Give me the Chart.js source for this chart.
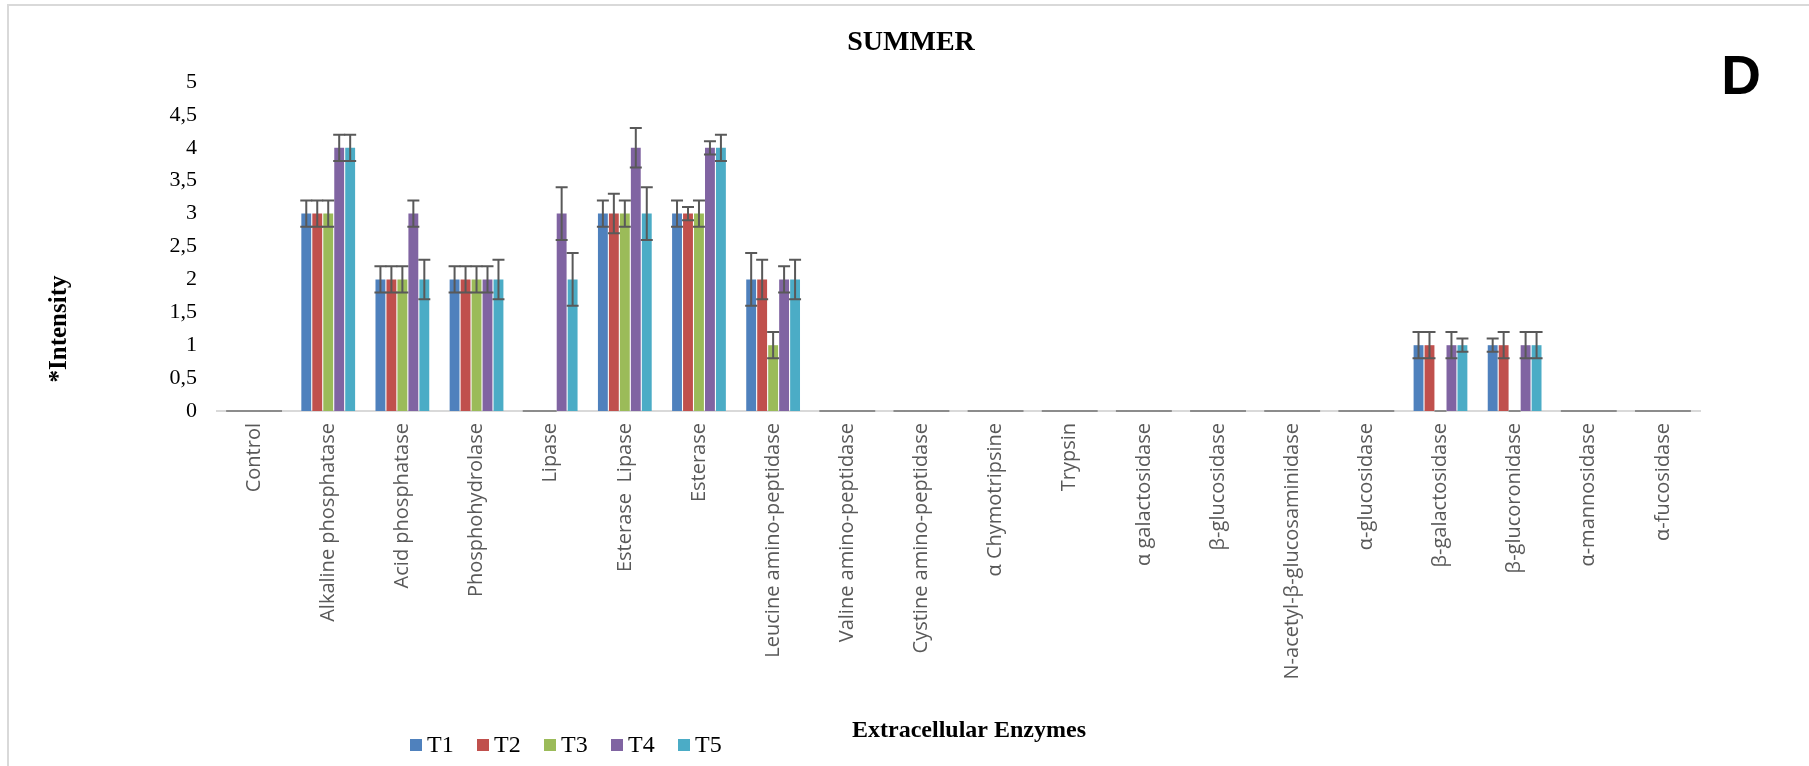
<!DOCTYPE html>
<html>
<head>
<meta charset="utf-8">
<script src="https://cdn.jsdelivr.net/npm/chart.js@4.4.0/dist/chart.umd.min.js"></script>
<style>
  html, body { margin: 0; padding: 0; background: #fff; }
  #wrap { width: 1809px; height: 766px; }
</style>
</head>
<body>
<div id="wrap"><canvas id="chartSummer" width="1809" height="766"></canvas></div>
<script>
// enzymes on the x axis
const enzymes = [
  'Control', 'Alkaline phosphatase', 'Acid phosphatase', 'Phosphohydrolase',
  'Lipase', 'Esterase  Lipase', 'Esterase', 'Leucine amino-peptidase',
  'Valine amino-peptidase', 'Cystine amino-peptidase', 'α Chymotripsine', 'Trypsin',
  'α galactosidase', 'β-glucosidase', 'N-acetyl-β-glucosaminidase', 'α-glucosidase',
  'β-galactosidase', 'β-glucoronidase', 'α-mannosidase', 'α-fucosidase'
];

// intensity per treatment
const t1 = [0, 3, 2, 2, 0, 3, 3, 2, 0, 0, 0, 0, 0, 0, 0, 0, 1, 1, 0, 0];
const t2 = [0, 3, 2, 2, 0, 3, 3, 2, 0, 0, 0, 0, 0, 0, 0, 0, 1, 1, 0, 0];
const t3 = [0, 3, 2, 2, 0, 3, 3, 1, 0, 0, 0, 0, 0, 0, 0, 0, 0, 0, 0, 0];
const t4 = [0, 4, 3, 2, 3, 4, 4, 2, 0, 0, 0, 0, 0, 0, 0, 0, 1, 1, 0, 0];
const t5 = [0, 4, 2, 2, 2, 3, 4, 2, 0, 0, 0, 0, 0, 0, 0, 0, 1, 1, 0, 0];

// error bars (+/-)
const e1 = [0, 0.2, 0.2, 0.2, 0, 0.2, 0.2, 0.4, 0, 0, 0, 0, 0, 0, 0, 0, 0.2, 0.1, 0, 0];
const e2 = [0, 0.2, 0.2, 0.2, 0, 0.3, 0.1, 0.3, 0, 0, 0, 0, 0, 0, 0, 0, 0.2, 0.2, 0, 0];
const e3 = [0, 0.2, 0.2, 0.2, 0, 0.2, 0.2, 0.2, 0, 0, 0, 0, 0, 0, 0, 0, 0, 0, 0, 0];
const e4 = [0, 0.2, 0.2, 0.2, 0.4, 0.3, 0.1, 0.2, 0, 0, 0, 0, 0, 0, 0, 0, 0.2, 0.2, 0, 0];
const e5 = [0, 0.2, 0.3, 0.3, 0.4, 0.4, 0.2, 0.3, 0, 0, 0, 0, 0, 0, 0, 0, 0.1, 0.2, 0, 0];

const seriesNames = ['T1', 'T2', 'T3', 'T4', 'T5'];
const yTicks = [0, 0.5, 1, 1.5, 2, 2.5, 3, 3.5, 4, 4.5, 5];

const colors = ['#4f81bd', '#c0504d', '#9bbb59', '#8064a2', '#4bacc6'];
const values = [t1, t2, t3, t4, t5];
const errors = [e1, e2, e3, e4, e5];

// frame, error bars, titles, legend, panel letter
const extrasPlugin = {
  id: 'extras',
  beforeDraw(chart) {
    const ctx = chart.ctx;
    ctx.save();
    ctx.fillStyle = '#fff';
    ctx.fillRect(0, 0, chart.width, chart.height);
    ctx.strokeStyle = '#d9d9d9';
    ctx.lineWidth = 2;
    ctx.beginPath();
    ctx.moveTo(8, chart.height);
    ctx.lineTo(8, 5);
    ctx.lineTo(chart.width, 5);
    ctx.stroke();
    ctx.restore();
  },
  afterDatasetsDraw(chart) {
    const ctx = chart.ctx;
    const y = chart.scales.y;
    ctx.save();
    ctx.lineWidth = 2;
    chart.data.datasets.forEach((ds, i) => {
      const meta = chart.getDatasetMeta(i);
      meta.data.forEach((bar, j) => {
        const v = ds.data[j];
        const e = errors[i][j];
        const top = y.getPixelForValue(v + e);
        const bot = y.getPixelForValue(Math.max(0, v - e));
        const half = 6;
        ctx.strokeStyle = (v === 0 && e === 0) ? '#8c8c8c' : '#595959';
        ctx.beginPath();
        ctx.moveTo(bar.x, top);
        ctx.lineTo(bar.x, bot);
        ctx.moveTo(bar.x - half, top);
        ctx.lineTo(bar.x + half, top);
        ctx.moveTo(bar.x - half, bot);
        ctx.lineTo(bar.x + half, bot);
        ctx.stroke();
      });
    });
    ctx.restore();
  },
  afterDraw(chart) {
    const ctx = chart.ctx;
    ctx.save();
    ctx.fillStyle = '#000';
    ctx.textBaseline = 'middle';
    ctx.textAlign = 'center';

    // chart title
    ctx.font = 'bold 28px "Liberation Serif"';
    ctx.fillText('SUMMER', 911, 43);

    // y axis title
    ctx.font = 'bold 25px "Liberation Serif"';
    ctx.translate(60, 329);
    ctx.rotate(-Math.PI / 2);
    ctx.fillText('*Intensity', 0, 0);
    ctx.setTransform(1, 0, 0, 1, 0, 0);

    // x axis title
    ctx.font = 'bold 24px "Liberation Serif"';
    ctx.fillText('Extracellular Enzymes', 969, 731);

    // panel letter
    ctx.font = 'bold 55px "Liberation Sans"';
    ctx.fillText('D', 1741, 79);

    // legend
    ctx.font = '24px "Liberation Serif"';
    ctx.textAlign = 'left';
    let lx = 410;
    chart.data.datasets.forEach((ds) => {
      ctx.fillStyle = ds.backgroundColor;
      ctx.fillRect(lx, 739, 12, 12);
      ctx.fillStyle = '#000';
      ctx.fillText(ds.label, lx + 17, 746);
      lx += 67;
    });
    ctx.restore();
  }
};

const ctx = document.getElementById('chartSummer').getContext('2d');
const summerChart = new Chart(ctx, {
  type: 'bar',
  data: {
    labels: enzymes,
    datasets: seriesNames.map((name, i) => ({
      label: name,
      data: values[i],
      backgroundColor: colors[i],
      borderWidth: 0,
      categoryPercentage: 0.74,
      barPercentage: 0.9
    }))
  },
  options: {
    responsive: false,
    animation: false,
    layout: { padding: { left: 0, right: 109, top: 82, bottom: 0 } },
    plugins: {
      legend: { display: false },
      tooltip: { enabled: false },
      title: { display: false }
    },
    scales: {
      x: {
        grid: { display: false, drawTicks: false },
        border: { display: true, color: '#d9d9d9', width: 2 },
        ticks: {
          autoSkip: false,
          minRotation: 90,
          maxRotation: 90,
          padding: 12,
          color: '#595959',
          font: { family: 'Open Sans', size: 20 }
        },
        afterFit(scale) { scale.height = 355; }
      },
      y: {
        min: 0,
        max: 5,
        grid: { display: false, drawTicks: false },
        border: { display: false },
        afterBuildTicks(scale) { scale.ticks = yTicks.map(v => ({ value: v })); },
        ticks: {
          padding: 20,
          color: '#000',
          font: { family: 'Liberation Serif', size: 22 },
          callback: (v) => String(v).replace('.', ',')
        },
        afterFit(scale) { scale.width = 217; }
      }
    }
  },
  plugins: [extrasPlugin]
});
</script>
</body>
</html>
